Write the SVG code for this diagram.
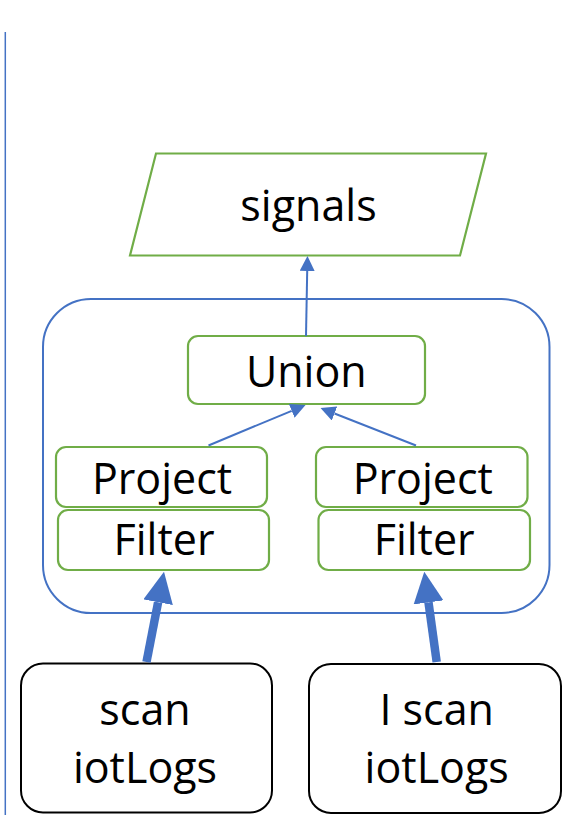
<svg xmlns="http://www.w3.org/2000/svg" width="562" height="815" viewBox="0 0 562 815">
  <style>
    .lbl { font-family: "Open Sans", "Noto Sans", "Liberation Sans", sans-serif; font-size: 43px; fill: #000; text-anchor: middle; }
    .op { fill: #fff; stroke: #70AD47; stroke-width: 2.2; }
    .src { fill: #fff; stroke: #000; stroke-width: 2; }
    .group { fill: none; stroke: #4472C4; stroke-width: 2; }
    .thin { fill: none; stroke: #4472C4; stroke-width: 2; marker-end: url(#head-thin); }
    .thick { fill: none; stroke: #4472C4; stroke-width: 8.5; marker-end: url(#head-thick); }
  </style>
  <defs>
    <marker id="head-thin" markerUnits="userSpaceOnUse" markerWidth="15" markerHeight="15" viewBox="0 0 15 15" refX="0" refY="7.5" orient="auto">
      <path d="M0,0 L15,7.5 L0,15 z" fill="#4472C4"/>
    </marker>
    <marker id="head-thick" markerUnits="userSpaceOnUse" markerWidth="31" markerHeight="30" viewBox="0 0 31 30" refX="0" refY="15" orient="auto">
      <path d="M0,0 L31,15 L0,30 z" fill="#4472C4"/>
    </marker>
  </defs>

  <rect width="562" height="815" fill="#fff"/>

  <!-- page margin rule -->
  <line x1="5.3" y1="32" x2="5.3" y2="815" stroke="#4472C4" stroke-width="1.5"/>

  <!-- pipeline frame -->
  <rect id="pipeline" class="group" x="43" y="299" width="506.5" height="314" rx="48"/>

  <g id="signals">
    <polygon class="op" points="156,153.5 486,153.5 460,255.5 130,255.5"/>
    <text class="lbl" x="308.5" y="221">signals</text>
  </g>

  <g id="union">
    <rect class="op" x="188" y="336" width="237" height="68" rx="10"/>
    <text class="lbl" x="306.3" y="386.5">Union</text>
  </g>

  <g id="project-left">
    <rect class="op" x="56" y="447" width="211" height="60" rx="10"/>
    <text class="lbl" x="162" y="494">Project</text>
  </g>
  <g id="filter-left">
    <rect class="op" x="58" y="510" width="211" height="60" rx="10"/>
    <text class="lbl" x="164" y="555">Filter</text>
  </g>

  <g id="project-right">
    <rect class="op" x="316" y="447" width="211.5" height="60" rx="10"/>
    <text class="lbl" x="422.8" y="494">Project</text>
  </g>
  <g id="filter-right">
    <rect class="op" x="318.5" y="510" width="211.5" height="60" rx="10"/>
    <text class="lbl" x="424.2" y="555">Filter</text>
  </g>

  <g id="scan-left">
    <rect class="src" x="21" y="663.5" width="251" height="149" rx="22"/>
    <text class="lbl" x="145" y="725">scan</text>
    <text class="lbl" x="145" y="783">iotLogs</text>
  </g>

  <g id="scan-right">
    <rect class="src" x="309" y="664" width="252" height="149" rx="22"/>
    <text class="lbl" x="436.7" y="725">I scan</text>
    <text class="lbl" x="436.7" y="783">iotLogs</text>
  </g>

  <g id="connectors">
    <line class="thin" x1="306" y1="336" x2="307.2" y2="271"/>
    <line class="thin" x1="208.5" y1="445.5" x2="291.7" y2="410.8"/>
    <line class="thin" x1="416" y1="445.5" x2="334.5" y2="413.5"/>
    <line class="thick" x1="146.5" y1="662" x2="158.1" y2="602.2"/>
    <line class="thick" x1="436.7" y1="662" x2="428.5" y2="602.4"/>
  </g>
</svg>
